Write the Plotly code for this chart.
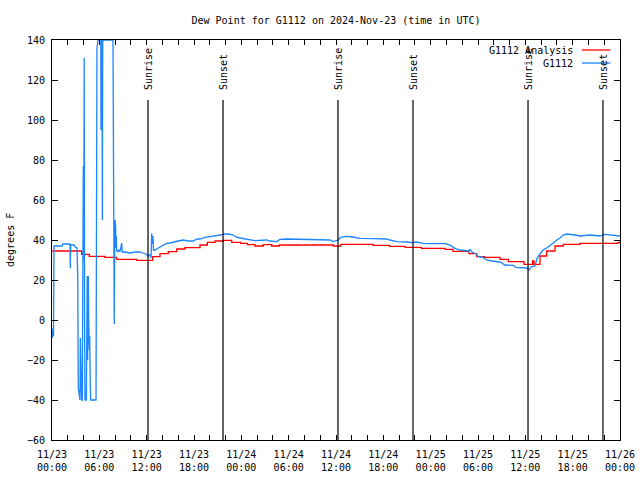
import plotly.graph_objects as go
import pandas as pd

# ---- data (hours after 2024-11-23 00:00 UTC) ----
base = pd.Timestamp("2024-11-23 00:00")

obs_hours = [0.00, 0.06, 0.13, 0.19, 0.25, 1.27, 1.39, 2.28, 2.32, 2.37, 2.79, 2.92, 3.17, 3.26, 3.33,
             3.46, 3.55, 3.59, 3.64, 3.68, 3.76, 3.84, 3.89, 3.97, 4.02, 4.08, 4.13, 4.18, 4.35, 4.40,
             4.47, 4.52, 4.60, 4.65, 4.73, 4.78, 4.85, 4.90, 5.58, 5.61, 5.70, 5.83, 6.15, 6.19, 6.21,
             6.25, 6.29, 6.34, 6.38, 6.43, 7.73, 7.78, 7.86, 7.89, 7.94, 7.99, 8.02, 8.07, 8.11, 8.15,
             8.20, 8.30, 8.49, 8.62, 8.83, 8.90, 9.25, 9.89, 10.52, 11.15, 11.53, 11.91, 12.21, 12.42,
             12.55, 12.64, 12.71, 12.80, 12.86, 13.06, 13.47, 13.90, 14.20, 14.54, 14.96, 15.38, 15.97,
             16.64, 17.24, 17.91, 18.38, 18.76, 19.39, 20.03, 20.66, 21.30, 21.93, 22.35, 22.98, 23.32,
             23.83, 24.68, 25.10, 25.73, 27.22, 27.63, 28.48, 28.90, 29.75, 31.02, 32.28, 33.12, 35.24,
             35.62, 35.87, 36.29, 36.63, 37.36, 38.15, 39.04, 40.73, 42.42, 42.84, 43.69, 44.96, 45.80,
             46.23, 47.07, 47.91, 49.82, 50.45, 51.08, 51.72, 52.35, 52.77, 52.99, 53.24, 53.74, 54.04,
             54.51, 55.10, 55.77, 56.79, 57.42, 58.48, 58.82, 59.74, 60.21, 60.46, 60.72, 61.22, 61.48,
             61.86, 62.24, 62.71, 63.13, 63.55, 63.98, 64.40, 64.78, 65.25, 66.30, 66.93, 68.20, 69.46,
             70.10, 70.99, 71.62, 72.00]
obs_vals = [-5, -9, -4, -8, 37, 37, 38, 38, 26, 37.5, 37.5, 36.5, 36, 22, -34,
            -40, -40, -9, -20, -10, -40, -40, 22, 77, 30, 131, -1, -40, -40, -1,
            22, -20, 22, 0, -15, -8, -33, -40, -40, 60, 136, 140, 140, 140, 95,
            118, 100, 140, 50, 140, 140, 69, 69, -2, 30, 50, 36, 47, 36, 42,
            35, 34, 35, 34, 38.5, 34, 34, 33.5, 34, 34, 33.5, 33, 32, 32.5,
            31, 43.3, 38, 42, 35, 35, 36, 37, 37.5, 38.3, 38.5, 39, 39.5,
            40, 39.5, 39.5, 40.5, 40.5, 41.3, 41.7, 42, 42.5, 43, 43, 42.5, 41.5,
            41, 40.5, 40, 39.7, 40, 39.5, 39.2, 40.3, 40.5, 40.3, 40.3, 40.3, 40,
            39.2, 39.5, 40, 41.5, 41.8, 41.5, 40.8, 40.7, 40.5, 40, 39.2, 39, 38.7,
            39, 38.3, 38.2, 38.2, 37.5, 35.8, 35, 34.7, 34.5, 35.3, 34, 33, 31.7,
            31.5, 30, 29.5, 29, 27.5, 27.3, 26.3, 26, 26, 25, 26.5, 27, 30.8,
            33, 35, 36, 37.5, 38.5, 40, 41, 42.5, 43, 42.5, 42, 42.5, 42,
            42.8, 42.5, 42, 42]

ana_hours = [0.00, 3.76, 4.73, 6.72, 8.20, 10.74, 12.76, 13.69, 14.74, 15.81, 16.86, 18.76, 19.69,
             20.66, 21.71, 22.78, 23.92, 24.78, 25.73, 26.78, 27.85, 28.81, 35.66, 36.63, 40.73,
             42.76, 44.75, 46.84, 49.82, 50.83, 52.86, 53.83, 54.80, 56.79, 57.84, 59.83, 60.93,
             61.10, 61.86, 62.71, 63.76, 64.81, 66.93, 71.75, 72.00]
ana_vals = [34.5, 32.8, 31.8, 31.3, 30.3, 29.8, 31.7, 33.2, 34.2, 35.5, 36.2, 37.5, 38.8,
            39.5, 39.8, 38.8, 38.3, 37.7, 37.0, 37.7, 37.0, 37.5, 37.0, 37.8, 37.3,
            36.8, 36.3, 35.8, 35.3, 34.3, 33.2, 31.7, 31.3, 30.3, 29.2, 27.8, 29.5,
            27.8, 32.0, 34.5, 37.0, 37.8, 38.3, 38.8, 38.8]

sun_labels = ["Sunrise", "Sunset", "Sunrise", "Sunset", "Sunrise", "Sunset"]
sun_hours = [12.17, 21.68, 36.25, 45.76, 60.34, 69.84]

title = "Dew Point for G1112 on 2024-Nov-23 (time in UTC)"
ana_name = "G1112 Analysis"
obs_name = "G1112"

RED = "#ff0000"
BLUE = "#1a86ff"
FONT = "DejaVu Sans Mono"

def to_t(hs):
    return [base + pd.Timedelta(hours=h) for h in hs]

fig = go.Figure()
fig.add_trace(go.Scatter(x=to_t(ana_hours), y=ana_vals, mode="lines", name=ana_name,
                         line=dict(color=RED, width=1.3, shape="hv"), showlegend=False))
fig.add_trace(go.Scatter(x=to_t(obs_hours), y=obs_vals, mode="lines", name=obs_name,
                         line=dict(color=BLUE, width=1.3), showlegend=False))

shapes = []
annotations = []
for lab, h in zip(sun_labels, sun_hours):
    t = base + pd.Timedelta(hours=h)
    shapes.append(dict(type="line", xref="x", yref="y", x0=t, x1=t, y0=-60, y1=110,
                       line=dict(color="black", width=1.2)))
    annotations.append(dict(x=t, y=114, xref="x", yref="y", text=lab, showarrow=False,
                            textangle=-90, xanchor="center", yanchor="bottom",
                            font=dict(family=FONT, size=10, color="black")))

# manual gnuplot-style key (text left of sample)
for i, (name, col) in enumerate([(ana_name, RED), (obs_name, BLUE)]):
    yp = 0.975 - i * 0.0325
    annotations.append(dict(x=0.921, y=yp, xref="paper", yref="paper", text=name, showarrow=False,
                            xanchor="right", yanchor="middle",
                            font=dict(family=FONT, size=10, color="black")))
    shapes.append(dict(type="line", xref="paper", yref="paper", x0=0.933, x1=0.983, y0=yp, y1=yp,
                       line=dict(color=col, width=1.3)))

annotations.append(dict(x=-0.074, y=0.5, xref="paper", yref="paper", text="degrees F",
                        showarrow=False, textangle=-90, xanchor="center", yanchor="middle",
                        font=dict(family=FONT, size=10, color="black")))

fig.update_layout(
    width=640, height=480,
    margin=dict(l=52, r=20, t=40, b=40),
    paper_bgcolor="white", plot_bgcolor="white",
    title=dict(text=title, x=0.525, y=0.958, xanchor="center", yanchor="middle",
               font=dict(family=FONT, size=10, color="black")),
    font=dict(family=FONT, size=10, color="black"),
    shapes=shapes, annotations=annotations,
    showlegend=False,
)
fig.update_xaxes(
    type="date",
    range=[base, base + pd.Timedelta(hours=72)],
    tickmode="linear", tick0=base, dtick=6 * 3600 * 1000,
    tickformat="%m/%d<br>%H:%M",
    ticks="inside", ticklen=5, tickcolor="black", tickwidth=1,
    minor=dict(dtick=2 * 3600 * 1000, ticks="inside", ticklen=5, tickcolor="black"),
    showline=True, linecolor="black", linewidth=1, mirror="allticks",
    showgrid=False, zeroline=False, ticklabelstandoff=5, automargin=False,
    tickfont=dict(family=FONT, size=10, color="black"),
)
fig.update_yaxes(
    range=[-60, 140], tickmode="linear", tick0=-60, dtick=20,
    ticks="inside", ticklen=6, tickcolor="black",
    showline=True, linecolor="black", linewidth=1, mirror="allticks",
    showgrid=False, zeroline=False, ticklabelstandoff=4, automargin=False,
    tickfont=dict(family=FONT, size=10, color="black"),
)

# remove the default 8px page margin so the 640x480 figure fills the window exactly
fig.write_html("out.html", config={"displayModeBar": False},
               post_script="document.body.style.margin='0px';")
